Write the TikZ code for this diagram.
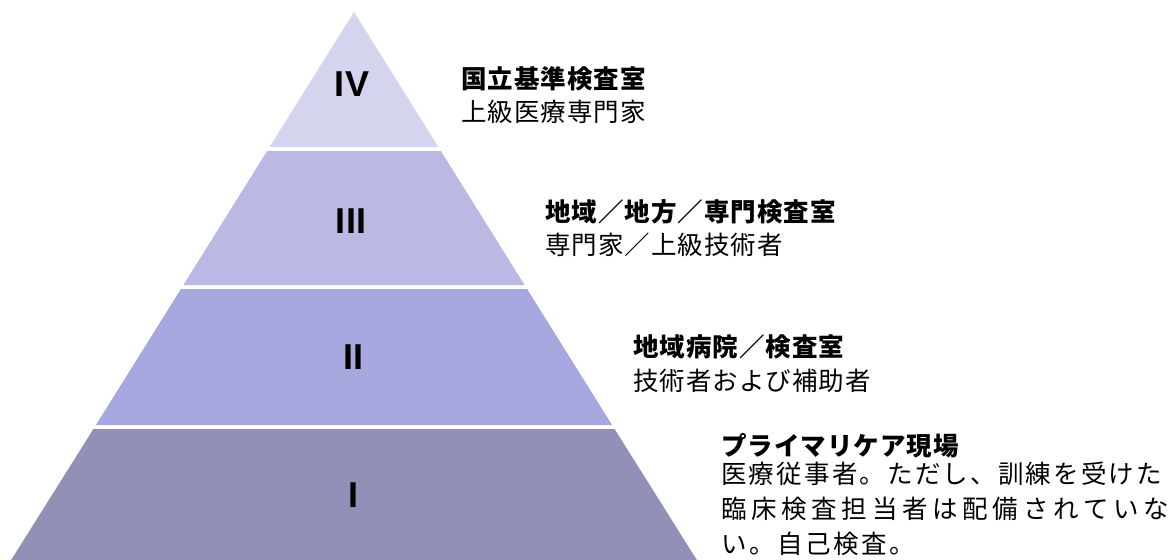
\documentclass[tikz,border=0pt]{standalone}
\usepackage{fontspec}
\setmainfont{Liberation Sans}
\newfontfamily\cjk{Noto Sans CJK JP}
\newlength\cjkadv
\newcommand\spacedtext[2]{\setlength\cjkadv{#1}\spacedtexti#2\relax}
\def\spacedtexti#1{\ifx\relax#1\else\makebox[\cjkadv][l]{#1}\expandafter\spacedtexti\fi}
\definecolor{tierA}{RGB}{212,212,238}
\definecolor{tierB}{RGB}{185,185,228}
\definecolor{tierC}{RGB}{168,168,224}
\definecolor{tierD}{RGB}{145,145,184}
\tikzset{
  tier/.style={draw=none},
  numeral/.style={inner sep=0pt, font=\fontsize{36}{36}\selectfont\bfseries},
  lbl/.style={inner sep=0pt, anchor=base west, font=\cjk\fontsize{25.5}{25.5}\selectfont},
  ttl/.style={lbl, font=\cjk\fontsize{25.5}{25.5}\selectfont\bfseries}
}
\begin{document}
\begin{tikzpicture}[x=1pt,y=-1pt]
\useasboundingbox (0,0) rectangle (1171,560);
\begin{scope}
\clip (0,0) rectangle (1171,560);
% half width = 0.625*(y-12), centre x = 354
\fill[tierA] (354,12) -- (438.4,147) -- (269.6,147) -- cycle;
\fill[tierB] (267.1,151) -- (440.9,151) -- (524.6,285) -- (183.4,285) -- cycle;
\fill[tierC] (180.9,289) -- (527.1,289) -- (612.1,425) -- (95.9,425) -- cycle;
\fill[tierD] (93.4,429) -- (614.6,429) -- (704.4,572) -- (3.6,572) -- cycle;
\end{scope}
\node[numeral] (n4) at (352,84) {IV};
\node[numeral] (n3) at (351,221) {III};
\node[numeral] (n2) at (353,357) {II};
\node[numeral] (n1) at (353,495) {I};

\node[ttl] (t4) at (461,88) {\spacedtext{26.5pt}{国立基準検査室}};
\node[lbl] (b4) at (461,121) {\spacedtext{26.5pt}{上級医療専門家}};

\node[ttl] (t3) at (545,221) {\spacedtext{26.5pt}{地域／地方／専門検査室}};
\node[lbl] (b3) at (545,254) {\spacedtext{26.5pt}{専門家／上級技術者}};

\node[ttl] (t2) at (633,356) {\spacedtext{26.5pt}{地域病院／検査室}};
\node[lbl] (b2) at (633,390) {\spacedtext{26.5pt}{技術者および補助者}};

\node[ttl] (t1) at (721,455) {\spacedtext{26.5pt}{プライマリケア現場}};
\node[lbl] (b1a) at (721,483) {\spacedtext{27.7pt}{医療従事者。ただし、訓練を受けた}};
\node[lbl] (b1b) at (721,518) {\spacedtext{30.2pt}{臨床検査担当者は配備されていな}};
\node[lbl] (b1c) at (721,553) {\spacedtext{28pt}{い。自己検査。}};
\end{tikzpicture}
\end{document}
